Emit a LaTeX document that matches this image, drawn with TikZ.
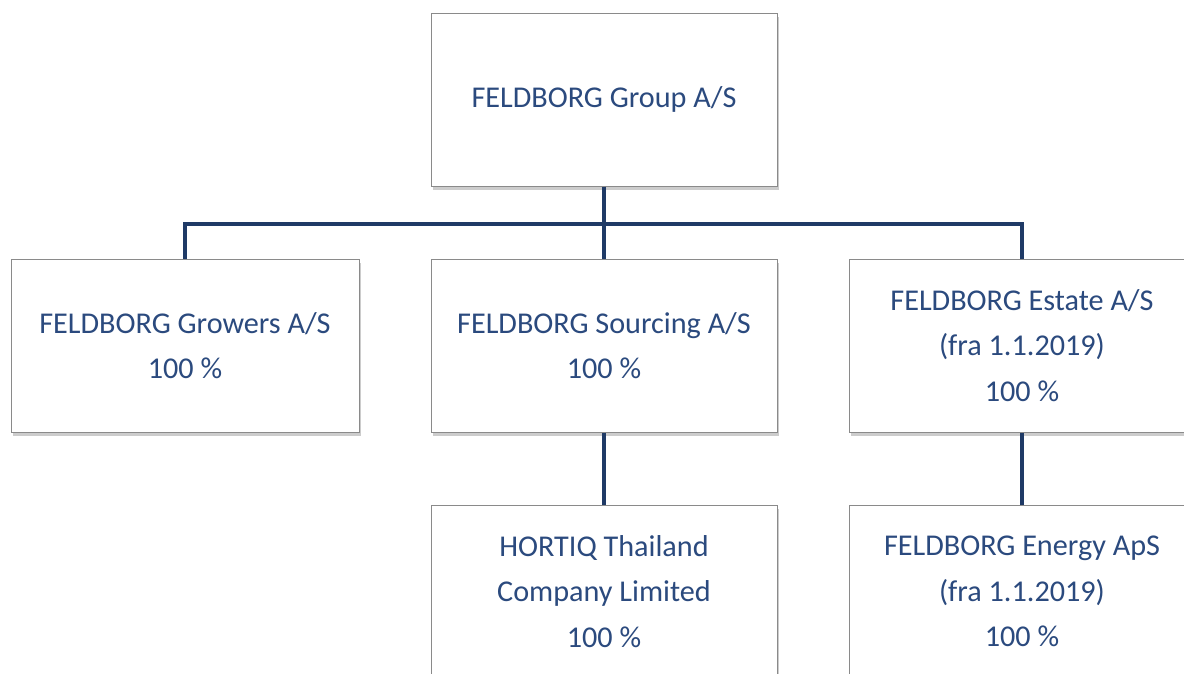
\documentclass[tikz,border=0pt]{standalone}
\usepackage{fontspec}
\setmainfont{Carlito}
\usetikzlibrary{shadows}
\definecolor{txtblue}{HTML}{2B4A7E}
\definecolor{linenavy}{HTML}{1F3A66}
\definecolor{boxgray}{HTML}{8A8A8A}
\tikzset{
  orgbox/.style={draw=boxgray, line width=1pt, fill=white, minimum width=346pt, minimum height=173pt,
    inner sep=0pt, align=center, text=txtblue, font=\fontsize{30.2}{45.5}\selectfont,
    drop shadow={opacity=0.4, shadow xshift=2pt, shadow yshift=-3.5pt}},
  conn/.style={draw=linenavy, line width=4.5pt}
}
\begin{document}
\begin{tikzpicture}[x=1pt,y=-1pt]
\useasboundingbox (0,0) rectangle (1184,673);
\clip (0,0) rectangle (1184,673);
\fill[white] (0,0) rectangle (1184,673);
\coordinate (bus) at (604,224);
\node[orgbox] (top) at (604,99.5) {FELDBORG Group A/S};
\node[orgbox, minimum width=348pt] (growers) at (185,345.5) {FELDBORG Growers A/S\\100 \%};
\node[orgbox] (sourcing) at (604,345.5) {FELDBORG Sourcing A/S\\100 \%};
\node[orgbox] (estate) at (1022,345.5) {FELDBORG Estate A/S\\(fra 1.1.2019)\\100 \%};
\node[orgbox] (hortiq) at (604,591.5) {HORTIQ Thailand\\Company Limited\\100 \%};
\node[orgbox] (energy) at (1022,591.5) {FELDBORG Energy ApS\\(fra 1.1.2019)\\100 \%};
\draw[conn] (top.south) -- (sourcing.north);
\draw[conn] (growers.north) |- (estate.north |- bus) -- (estate.north);
\draw[conn] (sourcing.south) -- (hortiq.north);
\draw[conn] (estate.south) -- (energy.north);
\end{tikzpicture}
\end{document}
